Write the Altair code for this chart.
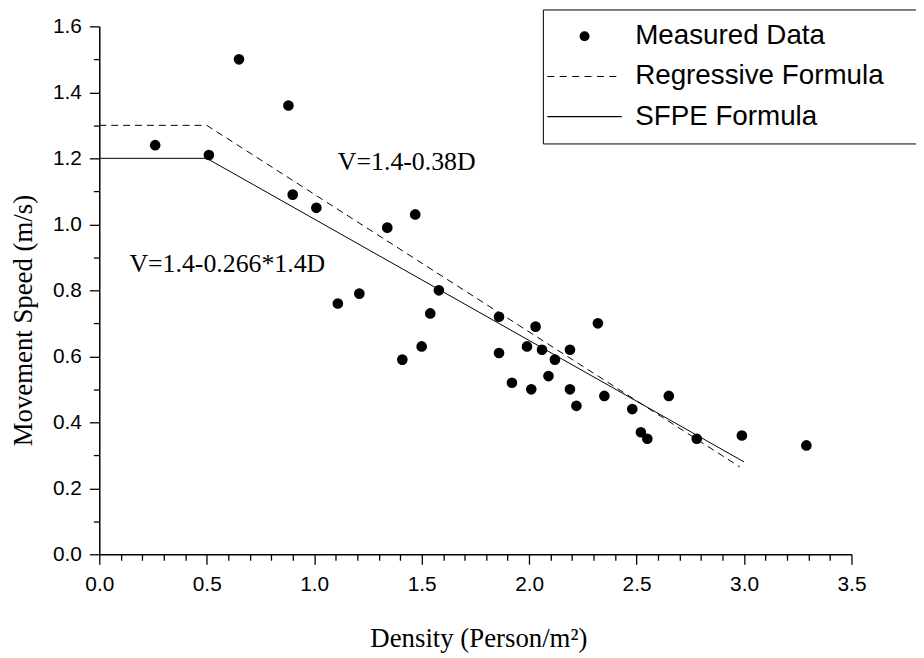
import altair as alt
import pandas as pd

# ---- data ----
density = [0.26, 0.51, 0.65, 0.88, 0.90, 1.01, 1.11, 1.21, 1.34, 1.41, 1.47, 1.50,
           1.54, 1.58, 1.86, 1.86, 1.92, 1.99, 2.01, 2.03, 2.06, 2.09, 2.12, 2.19,
           2.19, 2.22, 2.32, 2.35, 2.48, 2.52, 2.55, 2.65, 2.78, 2.99, 3.29]
speed = [1.24, 1.21, 1.50, 1.36, 1.09, 1.05, 0.76, 0.79, 0.99, 0.59, 1.03, 0.63,
         0.73, 0.80, 0.72, 0.61, 0.52, 0.63, 0.50, 0.69, 0.62, 0.54, 0.59, 0.62,
         0.50, 0.45, 0.70, 0.48, 0.44, 0.37, 0.35, 0.48, 0.35, 0.36, 0.33]

regressive_x = [0.0, 0.5, 2.98]
regressive_y = [1.30, 1.30, 0.265]
sfpe_x = [0.0, 0.5, 3.0]
sfpe_y = [1.20, 1.20, 0.28]

series_names = ["Measured Data", "Regressive Formula", "SFPE Formula"]

ann_text = ["V=1.4-0.38D", "V=1.4-0.266*1.4D"]
ann_x = [1.11, 0.14]
ann_y = [1.19, 0.88]

x_ticks = [round(i * 0.1, 1) for i in range(0, 36)]
y_ticks = [round(i * 0.1, 1) for i in range(0, 17)]

# ---- tables ----
pts = pd.DataFrame({"x": density, "y": speed, "series": series_names[0]})
reg = pd.DataFrame({"x": regressive_x, "y": regressive_y, "o": range(len(regressive_x))})
sfp = pd.DataFrame({"x": sfpe_x, "y": sfpe_y, "o": range(len(sfpe_x))})
ann = pd.DataFrame({"t": ann_text, "x": ann_x, "y": ann_y})

# legend symbol paths as thin filled bars (unit = sqrt(size)/2 = 5 px)
HALF = 0.11
def bar(s, e):
    return f"M{s:.2f},{-HALF}H{e:.2f}V{HALF}H{s:.2f}Z"

def dash_path(start=-7.5, end=7.5, period=2.5, dash=1.4):
    segs = []
    s = start
    while s < end:
        e = min(s + dash, end)
        segs.append(bar(s, e))
        s += period
    return "".join(segs)

shape_range = ["circle", dash_path(), bar(-7.5, 7.5)]

xscale = alt.Scale(domain=[0, 3.5], nice=False, zero=False)
yscale = alt.Scale(domain=[0, 1.6], nice=False, zero=False)

major_x = "abs(datum.value*2-round(datum.value*2))<0.001"
major_y = "abs(datum.value*5-round(datum.value*5))<0.001"

x_axis = alt.Axis(
    title="Density (Person/m²)",
    values=x_ticks,
    labelExpr=f"{major_x} ? format(datum.value, '.1f') : ''",
    tickSize={"condition": {"test": major_x, "value": 10}, "value": 6},
    grid=False, labelFlush=False, labelOverlap=False, labelBound=False,
    labelPadding=10, titleFontSize=27, titleX=382, titleY=72,
)
y_axis = alt.Axis(
    title="Movement Speed (m/s)",
    values=y_ticks,
    labelExpr=f"{major_y} ? format(datum.value, '.1f') : ''",
    tickSize={"condition": {"test": major_y, "value": 10}, "value": 6},
    grid=False, labelFlush=False, labelOverlap=False, labelBound=False,
    labelPadding=8, titleFontSize=27, titleX=-62, titleY=296,
)

X = alt.X("x:Q", scale=xscale, axis=x_axis)
Y = alt.Y("y:Q", scale=yscale, axis=y_axis)

pad = "\u00a0" * 4 + "\u200b"

points = alt.Chart(pts).mark_point(
    filled=True, size=115, color="black", opacity=1
).encode(
    x=X,
    y=Y,
    shape=alt.Shape(
        "series:N",
        scale=alt.Scale(domain=series_names, range=shape_range),
        legend=alt.Legend(
            title=None, orient="none", legendX=447, legendY=-17,
            strokeColor="black", padding=13,
            symbolSize=100, symbolOffset=15, labelOffset=37,
            symbolFillColor="black", symbolStrokeWidth=0, symbolOpacity=1,
            labelFont="Liberation Sans", labelFontSize=28, labelColor="black",
            labelLimit=500, rowPadding=12.5,
            labelExpr=f"datum.label + '{pad}'",
        ),
    ),
)

reg_line = alt.Chart(reg).mark_line(color="black", strokeWidth=1, strokeDash=[7, 5]).encode(
    x=X, y=Y, order="o:Q"
)
sfpe_line = alt.Chart(sfp).mark_line(color="black", strokeWidth=1).encode(
    x=X, y=Y, order="o:Q"
)
labels = alt.Chart(ann).mark_text(
    font="Liberation Serif", fontSize=26, align="left", baseline="middle", color="black"
).encode(x=X, y=Y, text="t:N")

chart = (
    alt.layer(reg_line, sfpe_line, points, labels)
    .properties(
        width=758, height=532,
        autosize=alt.AutoSizeParams(type="none"),
        padding={"left": 92, "top": 16, "right": 65, "bottom": 100},
    )
    .configure_view(stroke=None)
    .configure_axis(
        domainColor="black", domainWidth=1.5, tickColor="black", tickWidth=1.3,
        labelFont="Liberation Sans", labelFontSize=21, labelColor="black",
        titleFont="Liberation Serif", titleFontWeight="normal",
        titleColor="black", labelOverlap=False,
    )
)

chart.save("out.html", embed_options={"renderer": "svg", "actions": False})
